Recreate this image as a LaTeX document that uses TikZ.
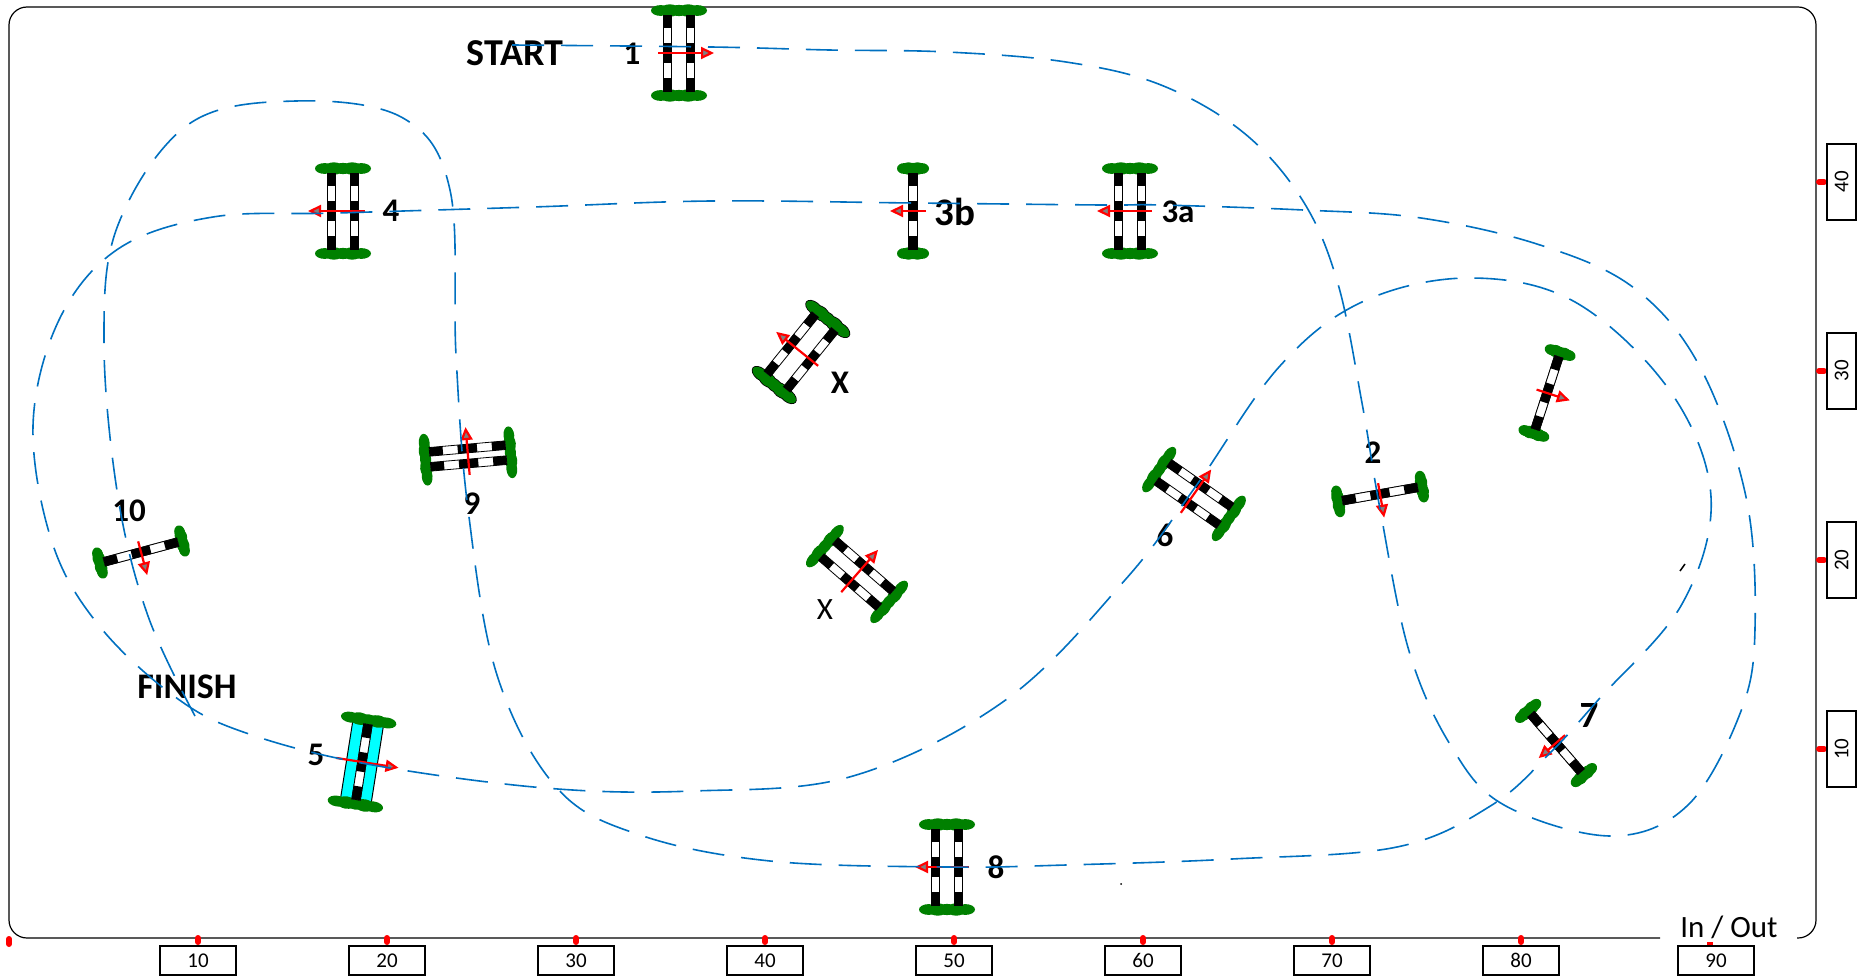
\documentclass[tikz,border=0pt]{standalone}
\usepackage{fontspec}
\setmainfont{Carlito}
\usepackage{xcolor}
\usetikzlibrary{arrows.meta}
\definecolor{flaggreen}{RGB}{0,128,0}
\definecolor{lineblue}{RGB}{0,112,192}
\definecolor{lanecyan}{RGB}{0,255,255}
\tikzset{
  tickbox/.style={draw, line width=1.6pt, minimum width=76pt, minimum height=29pt, inner sep=0pt, font=\fontsize{21}{21}\selectfont},
  sidebox/.style={tickbox, rotate=90},
  gatenum/.style={inner sep=0pt, font=\fontsize{33}{33}\selectfont\bfseries},
  bignum/.style={inner sep=0pt, font=\fontsize{39}{39}\selectfont\bfseries},
  plain/.style={inner sep=0pt, font=\fontsize{31}{31}\selectfont},
  tick/.style={red, line width=6pt, line cap=round},
  dirarrow/.style={red, line width=2.2pt, -{Triangle[fill=gray, length=13pt, width=12pt]}},
  course/.style={lineblue, line width=1.6pt, dash pattern=on 32pt off 17pt}
}
% green flags at both ends: colour, half width, extra radius
\newcommand{\flagbars}[3]{
  \foreach \k/\r in {-1/5.4,-0.5/6.2,0/5.6,0.5/6.2,1/5.4}{
    \fill[#1] ({\k*(#2*0.78-3.5)},-42.5) ellipse ({#2*0.22+3.5+#3} and {\r+#3});
    \fill[#1] ({\k*(#2*0.78-3.5)},42.5) ellipse ({#2*0.22+3.5+#3} and {\r+#3});
  }
}
% one chequered pole at local x
\newcommand{\gatepole}[1]{
  \draw[line width=0.8pt, fill=white] ({#1-4.3},-38) rectangle ({#1+4.3},38);
  \fill ({#1-4.3},-38) rectangle ({#1+4.3},-24.6);
  \fill ({#1-4.3},-9.7) rectangle ({#1+4.3},9.7);
  \fill ({#1-4.3},24.6) rectangle ({#1+4.3},38);
}
% centre, rotation, half gap, half width of flags, arrow from, arrow to
\newcommand{\gate}[6]{
  \begin{scope}[shift={#1}, rotate=#2]
    \flagbars{flaggreen}{#4}{0}
    \gatepole{-#3}
    \gatepole{#3}
    \draw[dirarrow] (#5,0) -- (#6,0);
  \end{scope}
}

\begin{document}
\begin{tikzpicture}[x=1pt, y=-1pt]
    \useasboundingbox (0,0) rectangle (1857,976);

    % frame
    \draw[line width=1.2pt, rounded corners=18pt] (1660,938) -- (9,938) -- (9,7) -- (1816,7) -- (1816,938) -- (1797,938);

    % scale
    \draw[tick] (9,939) -- (9,944);
    \foreach \v/\px in {10/198,20/387,30/576,40/765,50/954,60/1143,70/1332,80/1521}{
      \draw[tick] (\px,938) -- (\px,942);
      \node[tickbox] (x\v) at (\px,960.5) {\v};
    }
    \draw[red, line width=6pt] (1710,942) -- (1710,945);
    \node[tickbox] (x90) at (1716,960.5) {90};
    \foreach \v/\py in {10/749,20/560,30/371,40/182}{
      \draw[tick] (1819,\py) -- (1824,\py);
      \node[sidebox] (y\v) at (1841.5,\py) {\v};
    }
    \node[plain] (inout) at (1729,927) {In / Out};

    % gates
    \gate{(679,53)}{0}{11.5}{28}{-21}{35}
    \gate{(343,211)}{0}{11.5}{28}{22}{-35}
    \gate{(913,211)}{0}{0}{16}{13}{-23}
    \gate{(1130,211)}{0}{11.5}{28}{22}{-33}
    \begin{scope}[shift={(801,352)}, rotate=-39]
      \flagbars{black}{27}{0.8}
    \end{scope}
    \gate{(801,352)}{-39}{12.5}{27}{22}{-32}
    \gate{(857,574)}{49}{10.7}{27}{-24}{32}
    \gate{(1194,494)}{55}{11}{27}{-23}{30}
    \gate{(1380,494)}{100}{0}{16}{11}{-24}
    \gate{(1556,743)}{41}{0}{16}{12}{-23}
    \gate{(1547,393)}{-18}{0}{16}{-11}{24}
    \gate{(141,552)}{105}{0}{16}{11}{-24}
    \gate{(468,456)}{95}{7.5}{26}{-19}{29}
    \begin{scope}[shift={(362,762)}, rotate=-9]
      \fill[lanecyan] (-15.5,-38) rectangle (15.5,38);
      \draw[line width=1pt] (-15.5,-38) -- (-15.5,38) (15.5,-38) -- (15.5,38);
    \end{scope}
    \gate{(362,762)}{-9}{0}{28}{-26}{37}
    \gate{(947,867)}{0}{11.5}{28}{22}{-32}

    % labels
    \node[bignum, font=\fontsize{38}{38}\selectfont\bfseries] (start) at (515,53) {START};
    \node[gatenum] (g1) at (632,54) {1};
    \node[gatenum] (g4) at (391,211) {4};
    \node[bignum] (g3b) at (955,212) {3b};
    \node[gatenum] (g3a) at (1178,212) {3a};
    \node[gatenum] (gxa) at (840,383) {X};
    \node[plain] (gxb) at (825,610) {X};
    \node[gatenum] (g9) at (472,504) {9};
    \node[gatenum] (g10) at (129,511) {10};
    \node[bignum, font=\fontsize{36}{36}\selectfont\bfseries] (finish) at (187,687) {FINISH};
    \node[gatenum] (g5) at (316,755) {5};
    \node[gatenum] (g6) at (1165,535) {6};
    \node[gatenum] (g2) at (1373,453) {2};
    \node[gatenum, font=\fontsize{37}{37}\selectfont\bfseries] (g7) at (1589,715) {7};
    \node[gatenum] (g8) at (996,867) {8};

    % specks
    \draw[line width=1.5pt] (1680,571) -- (1685,564);
    \fill (1121,884) circle (1);

    % course
    \draw[course] plot[smooth, tension=0.6] coordinates {
      (512,45) (711,47) (829,50) (947,52) (1066,62) (1161,85) (1244,133) (1303,201)
      (1338,284) (1362,403) (1380,509) (1409,651) (1451,746) (1504,805) (1611,836)
      (1688,805) (1741,711) (1755,628) (1746,497) (1700,367) (1634,288) (1540,245)
      (1421,218) (1303,210) (1161,205) (1101,205) (913,203) (711,201) (533,207)
      (338,213) (213,217) (118,249) (59,320) (33,426) (53,545) (101,628) (178,699)
      (249,734) (367,764) (545,788) (693,791) (853,776) (1007,699) (1125,580)
      (1196,486) (1279,367) (1362,302) (1469,278) (1575,302) (1670,391) (1711,497)
      (1682,604) (1599,699) (1551,752) (1492,805) (1397,847) (1232,859) (1066,865)
      (947,867) (770,861) (640,835) (557,788) (497,675) (468,509) (456,355) (450,190)
      (403,118) (296,101) (189,124) (118,225) (104,343) (118,497) (148,616) (195,716)
    };
\end{tikzpicture}
\end{document}
